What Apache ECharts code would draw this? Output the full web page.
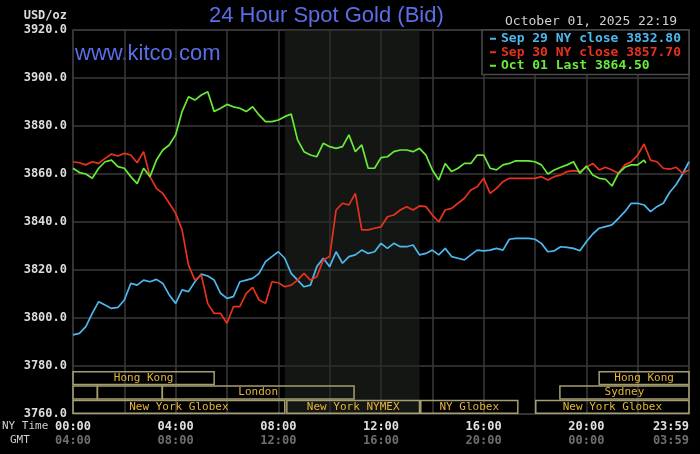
<!DOCTYPE html>
<html>
<head>
<meta charset="utf-8">
<title>24 Hour Spot Gold (Bid)</title>
<script src="https://cdn.jsdelivr.net/npm/echarts@6/dist/echarts.min.js"></script>
<style>
  html, body { margin: 0; padding: 0; background: #000; }
  #chart { width: 700px; height: 454px; }
</style>
</head>
<body>
<div id="chart"></div>
<script>
// bids sampled every 15 minutes of NY time, starting 00:00
const stepHours = 0.25

const sep29Values = [
  3793.0, 3793.6, 3796.4, 3801.9, 3806.8, 3805.4, 3804.0, 3804.4, 3807.5, 3814.4,
  3813.7, 3815.8, 3815.1, 3816.1, 3814.4, 3809.6, 3806.1, 3811.7, 3811.0, 3815.1,
  3818.3, 3817.5, 3815.8, 3810.3, 3808.2, 3808.9, 3815.1, 3815.8, 3816.5, 3818.6,
  3823.5, 3825.6, 3827.6, 3824.9, 3818.6, 3815.8, 3813.0, 3813.7, 3821.4, 3824.9,
  3821.4, 3827.6, 3822.8, 3825.6, 3826.3, 3828.3, 3826.9, 3827.6, 3831.1, 3829.0,
  3831.1, 3829.7, 3829.7, 3830.4, 3826.3, 3826.9, 3828.3, 3826.3, 3829.0, 3825.6,
  3824.9, 3824.2, 3826.3, 3828.3, 3828.0, 3828.3, 3829.0, 3828.3, 3832.8, 3833.2,
  3833.2, 3833.2, 3832.8, 3831.1, 3827.6, 3828.0, 3829.7, 3829.4, 3829.0, 3828.0,
  3831.8, 3835.0, 3837.4, 3838.1, 3838.8, 3841.5, 3844.3, 3847.8, 3847.8, 3847.1,
  3844.3, 3846.4, 3847.8, 3852.4, 3855.6, 3860.0, 3865.1
]

const sep30Values = [
  3865.1, 3864.7, 3863.8, 3865.1, 3864.4, 3866.5, 3868.3, 3867.5, 3868.6, 3867.9,
  3864.7, 3869.3, 3858.9, 3854.0, 3851.9, 3847.8, 3843.6, 3836.7, 3822.0, 3815.8,
  3817.9, 3806.0, 3801.9, 3801.9, 3797.8, 3804.7, 3804.7, 3810.3, 3812.8, 3807.5,
  3806.1, 3815.1, 3814.7, 3813.0, 3813.7, 3815.8, 3818.6, 3815.8, 3817.2, 3824.2,
  3825.6, 3845.0, 3847.8, 3847.1, 3851.9, 3836.7, 3836.7, 3837.4, 3838.0, 3842.2,
  3842.9, 3845.0, 3846.4, 3845.0, 3846.7, 3846.4, 3842.9, 3840.1, 3845.0, 3845.7,
  3847.8, 3849.9, 3853.3, 3854.7, 3858.2, 3851.9, 3854.0, 3856.8, 3858.2, 3858.2,
  3858.2, 3858.2, 3858.2, 3858.9, 3857.5, 3858.9, 3859.6, 3861.0, 3861.4, 3861.0,
  3862.8, 3864.4, 3861.7, 3862.8, 3861.7, 3860.3, 3863.8, 3865.1, 3867.9, 3872.5,
  3865.8, 3865.1, 3862.4, 3862.0, 3862.8, 3860.3, 3861.7
]

// today, up to 22:15, then the last quote at 22:19
const oct01Values = [
  3862.4, 3860.6, 3860.0, 3858.2, 3862.4, 3865.1, 3865.8, 3863.1, 3862.4, 3858.9,
  3856.0, 3862.4, 3858.9, 3865.8, 3870.0, 3872.1, 3876.3, 3886.0, 3892.2, 3890.8,
  3892.9, 3894.3, 3886.0, 3887.4, 3889.0, 3888.0, 3887.4, 3886.0, 3888.0, 3884.6,
  3881.8, 3881.8, 3882.5, 3883.9, 3885.0, 3874.2, 3869.3, 3867.9, 3867.2, 3872.8,
  3871.4, 3870.7, 3871.4, 3876.3, 3869.3, 3872.1, 3862.4, 3862.4, 3866.8, 3867.2,
  3869.3, 3870.0, 3870.0, 3869.3, 3870.7, 3867.9, 3861.7, 3857.5, 3864.4, 3861.0,
  3862.4, 3864.4, 3864.4, 3867.9, 3867.9, 3862.4, 3861.7, 3863.8, 3864.4, 3865.5,
  3865.5, 3865.5, 3865.1, 3863.8, 3860.0, 3861.7, 3862.8, 3863.8, 3865.1, 3860.3,
  3863.3, 3859.6, 3858.2, 3857.8, 3855.0, 3860.3, 3862.8, 3863.8, 3863.8, 3865.8
]
const lastQuote = [22 + 19 / 60, 3864.5]

const seriesNames = ['Sep 29 NY close 3832.80', 'Sep 30 NY close 3857.70', 'Oct 01 Last 3864.50']
const seriesColors = ['#4cb8ee', '#e8321e', '#68ec38']

const nyTicks = ['00:00', '04:00', '08:00', '12:00', '16:00', '20:00', '23:59']
const gmtTicks = ['04:00', '08:00', '12:00', '16:00', '20:00', '00:00', '03:59']

// NYMEX pit hours, shaded
const pitHours = [8.25, 13.5]

// market sessions: [start hour, end hour, row, label]
const sessionRows = ['top', 'middle', 'bottom']
const sessions = [
  [0, 5.5, 0, 'Hong Kong'],
  [20.5, 24, 0, 'Hong Kong'],
  [0, 0.95, 1, ''],
  [0.95, 3.48, 1, ''],
  [3.48, 10.95, 1, 'London'],
  [18.97, 24, 1, 'Sydney'],
  [0, 8.25, 2, 'New York Globex'],
  [8.33, 13.5, 2, 'New York NYMEX'],
  [13.55, 17.33, 2, 'NY Globex'],
  [18.03, 24, 2, 'New York Globex']
]

const mono = 'DejaVu Sans Mono'
const gridColor = '#3a3a3a'

const toPairs = values => values.map((v, i) => [i * stepHours, v])

const chart = echarts.init(document.getElementById('chart'))

const lineSeries = (idx, data) => ({
  name: seriesNames[idx],
  type: 'line',
  data: data,
  showSymbol: false,
  symbol: 'none',
  color: seriesColors[idx],
  lineStyle: { width: 1.7, color: seriesColors[idx] },
  z: 3,
  animation: false
})

const blue = lineSeries(0, toPairs(sep29Values))
blue.markArea = {
  silent: true,
  itemStyle: { color: 'rgba(34, 40, 34, 0.55)' },
  data: [[{ xAxis: pitHours[0] }, { xAxis: pitHours[1] }]]
}

const option = {
  backgroundColor: '#000',
  animation: false,
  title: {
    text: '24 Hour Spot Gold (Bid)',
    left: 209,
    top: 5,
    padding: 0,
    textStyle: { color: '#5a6ee8', fontSize: 22, fontWeight: 'normal', fontFamily: 'Liberation Sans' }
  },
  legend: {
    orient: 'vertical',
    right: 11,
    top: 30,
    padding: [2, 8, 2, 8],
    backgroundColor: '#000',
    borderColor: '#4a4a4a',
    borderWidth: 1.5,
    icon: 'rect',
    itemWidth: 6,
    itemHeight: 2,
    itemGap: 0,
    itemStyle: { borderWidth: 0 },
    selectedMode: false,
    textStyle: { fontFamily: mono, fontSize: 13, fontWeight: 'bold', lineHeight: 13.5 },
    data: seriesNames.map((n, i) => ({ name: n, textStyle: { color: seriesColors[i] } }))
  },
  grid: [
    { left: 73, right: 11, top: 30, bottom: 40, show: true, borderColor: gridColor, borderWidth: 1.5 },
    { left: 73, right: 11, top: 371, bottom: 40 }
  ],
  xAxis: [{
    type: 'value',
    min: 0,
    max: 24,
    interval: 2,
    axisLine: { show: false },
    axisTick: { show: false },
    splitLine: { show: true, lineStyle: { color: gridColor, width: 1.5 } },
    axisLabel: {
      margin: 6,
      showMaxLabel: true,
      alignMaxLabel: 'right',
      formatter: v => v % 4 === 0 ? '{ny|' + nyTicks[v / 4] + '}\n{gmt|' + gmtTicks[v / 4] + '}' : '',
      rich: {
        ny: { fontFamily: mono, fontSize: 12, fontWeight: 'bold', color: '#e0e0e0', lineHeight: 14 },
        gmt: { fontFamily: mono, fontSize: 12, fontWeight: 'bold', color: '#6e6e6e', lineHeight: 14 }
      }
    }
  }, {
    type: 'value',
    gridIndex: 1,
    min: 0,
    max: 24,
    show: false
  }],
  yAxis: [{
    type: 'value',
    min: 3760,
    max: 3920,
    interval: 20,
    axisLine: { show: false },
    axisTick: { show: false },
    splitLine: { show: true, lineStyle: { color: gridColor, width: 1.5 } },
    axisLabel: {
      margin: 6,
      fontFamily: mono,
      fontSize: 12,
      fontWeight: 'bold',
      color: '#dcdcdc',
      formatter: v => v.toFixed(1)
    }
  }, {
    type: 'category',
    gridIndex: 1,
    data: sessionRows,
    inverse: true,
    show: false
  }],
  graphic: [
    { type: 'text', right: 633, top: 10, style: { text: 'USD/oz', fill: '#dcdcdc', font: 'bold 12px ' + mono } },
    { type: 'text', left: 75, top: 43, style: { text: 'www.kitco.com', fill: '#5a6ee8', font: '22px Liberation Sans' } },
    { type: 'text', left: 505, top: 15, style: { text: 'October 01, 2025 22:19', fill: '#cfcfcf', font: '13px ' + mono } },
    { type: 'text', left: 2, top: 421, style: { text: 'NY Time', fill: '#cfcfcf', font: '11px ' + mono } },
    { type: 'text', left: 10, top: 435, style: { text: 'GMT', fill: '#cfcfcf', font: '11px ' + mono } }
  ],
  series: [
    blue,
    lineSeries(1, toPairs(sep30Values)),
    lineSeries(2, toPairs(oct01Values).concat([lastQuote])),
    {
      type: 'custom',
      xAxisIndex: 1,
      yAxisIndex: 1,
      silent: true,
      z: 4,
      data: sessions,
      renderItem: (params, api) => {
        const a = api.coord([api.value(0), api.value(2)])
        const b = api.coord([api.value(1), api.value(2)])
        const h = api.size([0, 1])[1]
        return {
          type: 'rect',
          shape: { x: a[0], y: a[1] - h / 2 + 0.75, width: b[0] - a[0], height: h - 1.5 },
          style: { fill: 'none', stroke: '#a59e70', lineWidth: 1.5 },
          textContent: {
            style: { text: sessions[params.dataIndex][3], fill: '#e4b43a', font: '11px ' + mono }
          },
          textConfig: { position: 'inside' }
        }
      }
    }
  ]
}

chart.setOption(option)
</script>
</body>
</html>
